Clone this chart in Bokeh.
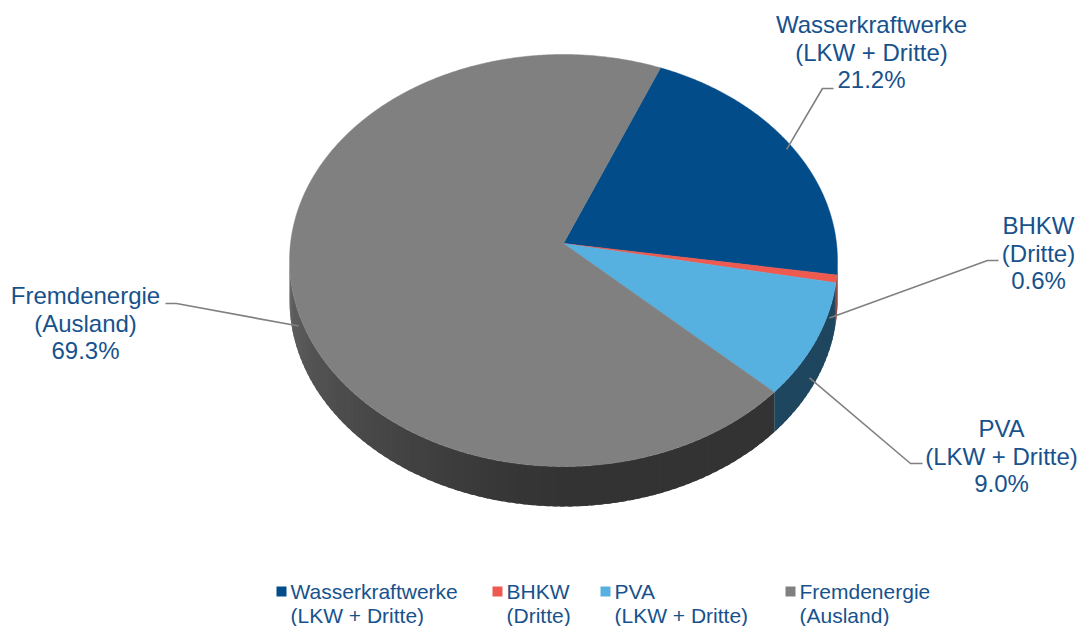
import numpy as np
from bokeh.plotting import figure
from bokeh.models import Range1d
from bokeh.core.properties import value
from bokeh.embed import file_html
from bokeh.resources import INLINE

# ---------------- data ----------------
categories = ["Wasserkraftwerke (LKW + Dritte)", "BHKW (Dritte)", "PVA (LKW + Dritte)", "Fremdenergie (Ausland)"]
name_lines = [["Wasserkraftwerke", "(LKW + Dritte)"],
              ["BHKW", "(Dritte)"],
              ["PVA", "(LKW + Dritte)"],
              ["Fremdenergie", "(Ausland)"]]
values = [21.2, 0.6, 9.0, 69.3]

# ---------------- style / layout ----------------
top_colors = ["#024c89", "#ee5a4f", "#56b0e0", "#808080"]
side_colors = ["#012b4d", "#8c2f29", "#1f465f", None]  # None -> gradient grey
text_color = "#17528c"
FONT = value("Liberation Sans")

W, H = 1080, 626
p = figure(width=W, height=H, output_backend="svg", toolbar_location=None,
           x_range=Range1d(0, W), y_range=Range1d(H, 0),
           min_border=0, outline_line_color=None)
p.axis.visible = False
p.grid.visible = False
p.background_fill_color = "white"

# pie geometry (perspective tilted disk), screen-pixel units
cx, cy, rx, ry, k, depth = 563.0, 243.0, 273.0, 204.6, 0.0825, 40.0
start_deg = 22.5


def proj(theta_deg, r=1.0, dz=0.0):
    t = np.radians(theta_deg)
    u = r * np.sin(t)
    v = r * np.cos(t)
    w = 1 + k * v
    return cx + rx * u / w, cy - ry * v / w + dz


total = float(sum(values))
bounds = [start_deg]
for v in values:
    bounds.append(bounds[-1] + v / total * 360.0)

# visible side-wall range (silhouette)
th_R = np.degrees(np.arccos(-k))
th_L = 360.0 - th_R


def grey_side(theta):
    g = np.interp(theta, [180, 190, 215, 240, 266], [0x33, 0x36, 0x44, 0x52, 0x64])
    g = int(round(g))
    return "#%02x%02x%02x" % (g, g, g)


# ----- side walls (strips, overlapping slightly to avoid seams) -----
sxs, sys_, scol = [], [], []
for i in range(len(values)):
    a0, a1 = bounds[i], bounds[i + 1]
    lo, hi = max(a0, th_R), min(a1, th_L)
    if hi <= lo:
        continue
    n = max(2, int(np.ceil((hi - lo) / 1.5)))
    edges = np.linspace(lo, hi, n + 1)
    step = edges[1] - edges[0]
    for t0, t1 in zip(edges[:-1], edges[1:]):
        t1e = min(t1 + 0.6 * step, hi)
        ts = np.linspace(t0, t1e, 4)
        xs, ys = proj(ts)
        sxs.append(list(xs) + list(xs[::-1]))
        sys_.append(list(ys) + list((ys + depth)[::-1]))
        if side_colors[i] is None:
            scol.append(grey_side(0.5 * (t0 + t1)))
        else:
            scol.append(side_colors[i])
p.patches(sxs, sys_, fill_color=scol, line_color=None)

# ----- top faces -----
txs, tys = [], []
for i in range(len(values)):
    a0, a1 = bounds[i], bounds[i + 1]
    ts = np.linspace(a0, a1, max(3, int((a1 - a0) * 2)))
    xs, ys = proj(ts)
    txs.append([cx] + list(xs))
    tys.append([cy] + list(ys))
p.patches(txs, tys, fill_color=top_colors, line_color=top_colors, line_width=0.5)

# ----- leader lines & labels -----
label_x = [871, 1038, 1001, 85]
label_y = [24, 225, 428, 295]
line_gap = 27.5
elbow = [(822, 88), (987, 260), (910, 463), (176, 303)]
endpt = [(833, 88), (998, 260), (922, 463), (165, 303)]

lx, ly = [], []
for i in range(len(values)):
    mid = 0.5 * (bounds[i] + bounds[i + 1])
    front = np.cos(np.radians(mid)) < 0
    ax, ay = proj(mid, r=0.975, dz=depth if front else 0.0)
    lx.append([float(ax), elbow[i][0], endpt[i][0]])
    ly.append([float(ay), elbow[i][1], endpt[i][1]])
p.multi_line(lx, ly, line_color="#808080", line_width=1.6)

tx, ty, tt = [], [], []
for i in range(len(values)):
    lines = name_lines[i] + [f"{values[i]:.1f}%"]
    for j, s in enumerate(lines):
        tx.append(label_x[i])
        ty.append(label_y[i] + j * line_gap)
        tt.append(s)
p.text(x=tx, y=ty, text=tt, text_font=FONT, text_font_size="24px",
       text_color=text_color, text_align="center", text_baseline="middle")

# ----- legend -----
leg_sq_x = [281, 497, 605, 790]
leg_y1, leg_y2 = 591, 615
p.rect(x=leg_sq_x, y=[leg_y1] * 4, width=10, height=10,
       fill_color=top_colors, line_color=None)
gx, gy, gt = [], [], []
for i in range(len(values)):
    gx += [leg_sq_x[i] + 9, leg_sq_x[i] + 9]
    gy += [leg_y1, leg_y2]
    gt += name_lines[i]
p.text(x=gx, y=gy, text=gt, text_font=FONT, text_font_size="21px",
       text_color=text_color, text_align="left", text_baseline="middle")

open("out.html", "w").write(file_html(p, INLINE))
